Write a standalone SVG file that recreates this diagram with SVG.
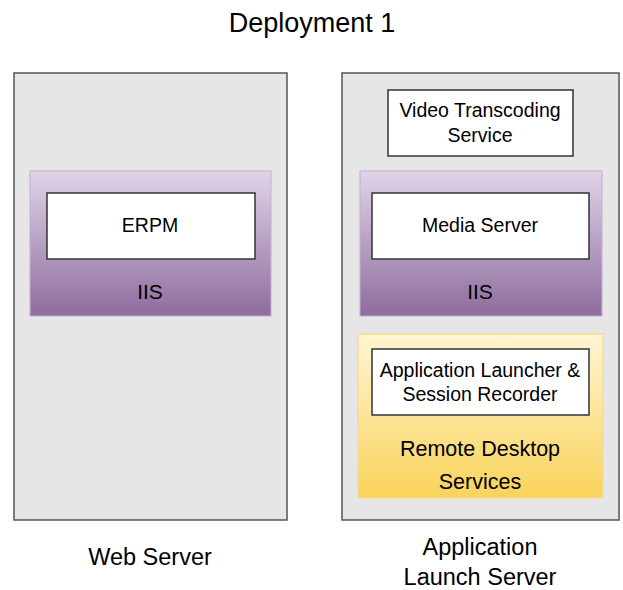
<svg xmlns="http://www.w3.org/2000/svg" width="623" height="590" viewBox="0 0 623 590">
<style>
text{font-family:"Liberation Sans",Arial,sans-serif;fill:#000;text-anchor:middle}
.server{fill:#e6e6e6;stroke:#555;stroke-width:1.5}
.iis{fill:url(#gPurple);stroke:#c3aed0;stroke-width:1}
.rds{fill:url(#gYellow);stroke:#f3dc9c;stroke-width:1.5}
.box{fill:#fff;stroke:#333;stroke-width:1.5}
.t19{font-size:19.5px}
.t21{font-size:21px}
.t215{font-size:21.5px}
.t235{font-size:23.5px}
</style>
<defs>
<linearGradient id="gPurple" x1="0" y1="0" x2="0" y2="1">
<stop offset="0" stop-color="#e0d4e7"/>
<stop offset="1" stop-color="#8e6c9e"/>
</linearGradient>
<linearGradient id="gYellow" x1="0" y1="0" x2="0" y2="1">
<stop offset="0" stop-color="#fff5d2"/>
<stop offset="1" stop-color="#f9d35c"/>
</linearGradient>
</defs>
<rect width="623" height="590" fill="#fff"/>
<text x="312" y="32" style="font-size:27px">Deployment 1</text>
<g id="web-server">
<rect class="server" x="14" y="73" width="273" height="447"/>
<text class="t235" x="150" y="565">Web Server</text>
</g>
<g id="iis-left">
<rect class="iis" x="30" y="171" width="241" height="145"/>
<text class="t21" x="150" y="299">IIS</text>
</g>
<g id="erpm">
<rect class="box" x="47" y="193" width="208" height="66"/>
<text class="t19" x="150" y="232">ERPM</text>
</g>
<g id="app-launch-server">
<rect class="server" x="342" y="73" width="277" height="447"/>
<text class="t235" x="480" y="555">Application</text>
<text class="t235" x="480" y="585">Launch Server</text>
</g>
<g id="video-transcoding">
<rect class="box" x="388" y="90" width="185" height="66"/>
<text class="t19" x="480" y="117">Video Transcoding</text>
<text class="t19" x="480" y="142">Service</text>
</g>
<g id="iis-right">
<rect class="iis" x="360" y="171" width="242" height="145"/>
<text class="t21" x="480" y="299">IIS</text>
</g>
<g id="media-server">
<rect class="box" x="372" y="193" width="217" height="66"/>
<text class="t19" x="480" y="232">Media Server</text>
</g>
<g id="rds">
<rect class="rds" x="358" y="334" width="245" height="164"/>
<text class="t215" x="480" y="456">Remote Desktop</text>
<text class="t215" x="480" y="489">Services</text>
</g>
<g id="app-launcher">
<rect class="box" x="372" y="349" width="217" height="66"/>
<text class="t19" x="480" y="377">Application Launcher &amp;</text>
<text class="t19" x="480" y="401">Session Recorder</text>
</g>
<g id="connectors"></g>
</svg>
